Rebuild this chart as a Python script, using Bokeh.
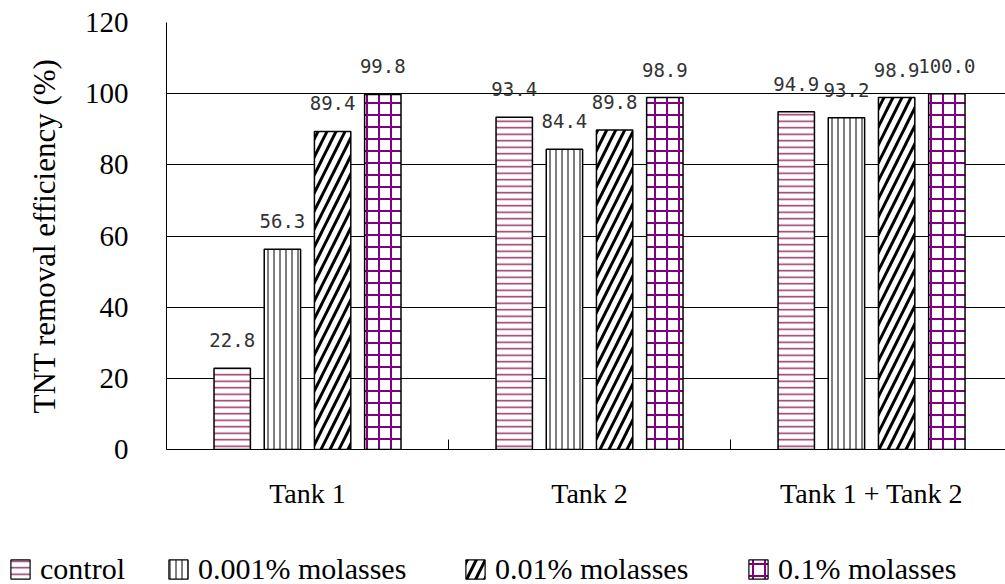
from bokeh.plotting import figure
from bokeh.core.properties import value
from bokeh.models import (ColumnDataSource, FixedTicker, LabelSet, Legend,
                          LegendItem, Range1d)
from bokeh.embed import file_html
from bokeh.resources import INLINE

# Groups along the x axis and treatments within each group
categories = ["Tank 1", "Tank 2", "Tank 1 + Tank 2"]
treatments = ["control", "0.001% molasses", "0.01% molasses", "0.1% molasses"]

# TNT removal efficiency (%) for each treatment, per group
control = [22.8, 93.4, 94.9]
molasses_0001 = [56.3, 84.4, 93.2]
molasses_001 = [89.4, 89.8, 98.9]
molasses_01 = [99.8, 98.9, 100.0]

y_ticks = [0, 20, 40, 60, 80, 100, 120]

series = [control, molasses_0001, molasses_001, molasses_01]

SERIF = "Liberation Serif"
W = 1005
MAIN_H = 524
LEGEND_H = 60

p = figure(width=W, height=MAIN_H, output_backend="svg", toolbar_location=None,
           x_range=Range1d(0, 2.975), y_range=Range1d(0, 120),
           min_border_left=166, min_border_right=0, min_border_top=22,
           min_border_bottom=MAIN_H - 449)
p.outline_line_color = None
p.background_fill_color = "white"
p.border_fill_color = "white"

# hatch styling per treatment
styles = [
    dict(hatch_pattern="horizontal_line", hatch_color="#993366", hatch_weight=1.5, hatch_scale=6.5),
    dict(hatch_pattern="vertical_line", hatch_color="black", hatch_weight=1, hatch_scale=6),
    dict(hatch_pattern="right_diagonal_line", hatch_color="black", hatch_weight=3, hatch_scale=18),
    dict(hatch_pattern="cross", hatch_color="#800080", hatch_weight=2, hatch_scale=12),
]
offsets = [-0.267, -0.089, 0.089, 0.267]
bar_width = 0.129

sources = []
label_x, label_y, label_txt = [], [], []
for vals, off, st in zip(series, offsets, styles):
    xs = [i + 0.5 + off for i in range(len(categories))]
    src = ColumnDataSource(dict(x=xs, top=vals))
    sources.append(src)
    p.vbar(x="x", top="top", width=bar_width, source=src,
           fill_color="white", line_color="black", line_width=1.5, **st)
    label_x += xs
    label_y += vals
    label_txt += ["%.1f" % v for v in vals]

lab_src = ColumnDataSource(dict(x=label_x, y=label_y, t=label_txt))
p.add_layout(LabelSet(x="x", y="y", text="t", source=lab_src, y_offset=21,
                      text_align="center", text_baseline="alphabetic",
                      text_font=value("DejaVu Sans Mono"), text_font_size="19px",
                      text_color="#333333"))

# axes and grid
p.xgrid.visible = False
p.ygrid.grid_line_color = "black"
p.ygrid.grid_line_width = 1
p.ygrid.ticker = FixedTicker(ticks=y_ticks)

yax = p.yaxis[0]
yax.ticker = FixedTicker(ticks=y_ticks)
yax.axis_line_color = "black"
yax.major_tick_in = 0
yax.major_tick_out = 0
yax.minor_tick_line_color = None
yax.major_label_standoff = 38
yax.major_label_text_font = SERIF
yax.major_label_text_font_size = "29px"
yax.major_label_text_color = "black"
yax.axis_label = "TNT removal efficiency (%)"
yax.axis_label_text_font = SERIF
yax.axis_label_text_font_size = "31px"
yax.axis_label_text_font_style = "normal"
yax.axis_label_text_color = "black"
yax.axis_label_standoff = 20

xax = p.xaxis[0]
xax.ticker = FixedTicker(ticks=[i + 0.5 for i in range(len(categories))],
                         minor_ticks=list(range(len(categories) + 1)))
xax.major_label_overrides = {i + 0.5: c for i, c in enumerate(categories)}
xax.axis_line_color = "black"
xax.major_tick_in = 0
xax.major_tick_out = 0
xax.minor_tick_in = 10
xax.minor_tick_out = 0
xax.minor_tick_line_color = "black"
xax.major_label_standoff = 28
xax.major_label_text_font = SERIF
xax.major_label_text_font_size = "28px"
xax.major_label_text_color = "black"

# legend strip under the chart, spanning the full width
lg = figure(width=W, height=LEGEND_H, output_backend="svg", toolbar_location=None,
            x_range=Range1d(0, 1), y_range=Range1d(0, 1), min_border=0)
lg.axis.visible = False
lg.grid.visible = False
lg.outline_line_color = None
lg.border_fill_color = "white"

legend_x = [8, 166, 463, 746]
for name, st, lx, src in zip(treatments, styles, legend_x, sources):
    # hidden copy of the series; it only supplies the legend key's styling
    key = lg.vbar(x="x", top="top", width=bar_width, source=src, visible=False,
                  fill_color="white", line_color="black", line_width=1.2, **st)
    leg = Legend(items=[LegendItem(label=name, renderers=[key])],
                 location=(lx, -2), orientation="horizontal",
                 glyph_width=24, glyph_height=24, label_standoff=8,
                 padding=0, margin=0, spacing=0, inactive_fill_alpha=0,
                 border_line_color=None, background_fill_alpha=0,
                 label_text_font=SERIF, label_text_font_size="30px",
                 label_text_color="black")
    lg.add_layout(leg)

open("out.html", "w").write(file_html((p, lg), INLINE))
